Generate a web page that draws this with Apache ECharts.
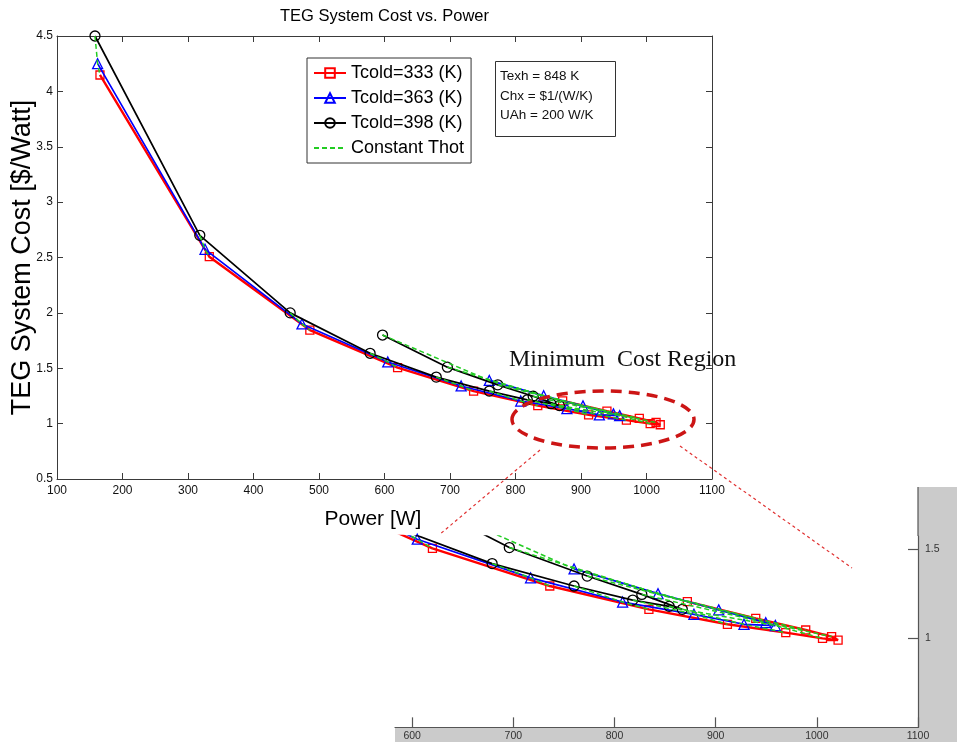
<!DOCTYPE html>
<html>
<head>
<meta charset="utf-8">
<script src="https://cdn.jsdelivr.net/npm/echarts@6/dist/echarts.min.js"></script>
<style>
  html, body { margin: 0; padding: 0; background: #ffffff; }
  #chart { width: 957px; height: 742px; }
</style>
</head>
<body>
<div id="chart"></div>
<script>
// Power [W] and system cost [$/Watt] along each sweep, in path order:
// rising power branch, the maximum-power turn, then the returning branch.
const tcold333 = [[165.6, 4.148], [332.5, 2.507], [486, 1.845], [620, 1.505], [736, 1.294], [834, 1.163],
                  [911.6, 1.079], [969.3, 1.032], [1005.6, 1.0], [1021, 0.99], [1014.6, 1.01], [989, 1.047],
                  [939.6, 1.112], [872, 1.206]];
const tcold363 = [[162, 4.25], [326, 2.574], [474, 1.9], [605, 1.557], [717, 1.34], [808, 1.204],
                  [878.5, 1.135], [928, 1.079], [959, 1.072], [949.5, 1.088], [903, 1.16], [843, 1.251],
                  [760, 1.39]];
const tcold398 = [[158, 4.5], [318, 2.7], [456, 2.0], [578, 1.635], [679, 1.42], [760, 1.294],
                  [818, 1.215], [854, 1.18], [867, 1.163], [827, 1.247], [773, 1.35], [696, 1.51],
                  [597, 1.8]];

const seriesNames = ['Tcold=333 (K)', 'Tcold=363 (K)', 'Tcold=398 (K)', 'Constant Thot'];
const infoLines = ['Texh = 848 K', 'Chx = $1/(W/K)', 'UAh = 200 W/K'];

// tick values
const mainXTicks = { min: 100, max: 1100, step: 100 };
const mainYTicks = { min: 0.5, max: 4.5, step: 0.5 };
const insetXTicks = [600, 700, 800, 900, 1000, 1100];
const insetYTicks = [1, 1.5];

// points sharing the same hot-side temperature: counted from the start
// of each sweep for the rising branch, from the end for the returning one
const RISING_SHARED = 9;
const RETURNING_SHARED = 4;

function constantThotLines() {
  const sweeps = [tcold398, tcold363, tcold333];
  const lines = [];
  for (let i = 0; i < RISING_SHARED; i++) lines.push(sweeps.map(s => s[i]));
  for (let j = 1; j <= RETURNING_SHARED; j++) lines.push(sweeps.map(s => s[s.length - j]));
  return lines;
}

const FONT = 'Liberation Sans, Arial, sans-serif';
const AXIS_COLOR = '#3a3a3a';
const plain = v => String(v);

const styles = [
  { data: tcold333, color: '#ff0000', symbol: 'rect', size: 8, width: 2.4 },
  { data: tcold363, color: '#0000ff', symbol: 'triangle', size: 10, width: 1.7 },
  { data: tcold398, color: '#000000', symbol: 'circle', size: 10, width: 1.7 }
];

function buildSeries(axisIndex) {
  const out = [];
  styles.forEach((s, k) => {
    out.push({
      type: 'line',
      name: seriesNames[k],
      xAxisIndex: axisIndex,
      yAxisIndex: axisIndex,
      data: s.data,
      symbol: s.symbol,
      symbolSize: s.size,
      showAllSymbol: true,
      lineStyle: { color: s.color, width: s.width },
      itemStyle: { color: 'rgba(0,0,0,0)', borderColor: s.color, borderWidth: 1.3 },
      emphasis: { disabled: true },
      z: 3 + k,
      animation: false
    });
  });
  constantThotLines().forEach(line => {
    out.push({
      type: 'line',
      name: seriesNames[3],
      xAxisIndex: axisIndex,
      yAxisIndex: axisIndex,
      data: line,
      symbol: 'none',
      lineStyle: { color: '#22cc22', width: 1.5, type: [5, 3] },
      itemStyle: { color: 'rgba(0,0,0,0)', borderWidth: 0 },
      emphasis: { disabled: true },
      z: 8,
      animation: false
    });
  });
  return out;
}

const chart = echarts.init(document.getElementById('chart'), null, { renderer: 'canvas' });

const mainTick = { inside: true, length: 6, lineStyle: { color: AXIS_COLOR } };
const mainLine = { lineStyle: { color: AXIS_COLOR, width: 1 } };

chart.setOption({
  backgroundColor: '#ffffff',
  animation: false,
  title: {
    text: 'TEG System Cost vs. Power',
    left: 384.5,
    top: 8,
    textAlign: 'center',
    padding: 0,
    textStyle: { fontFamily: FONT, fontSize: 16.5, fontWeight: 'normal', color: '#000' }
  },
  legend: {
    data: seriesNames,
    orient: 'vertical',
    left: 307,
    top: 58,
    itemWidth: 32,
    itemHeight: 12,
    itemGap: 5,
    padding: [5, 7, 5, 6],
    backgroundColor: '#ffffff',
    borderColor: '#333333',
    borderWidth: 1,
    borderRadius: 0,
    selectedMode: false,
    textStyle: { fontFamily: FONT, fontSize: 18, color: '#000', lineHeight: 20 }
  },
  grid: [
    { left: 57, top: 36, width: 655, height: 443, containLabel: false, outerBoundsMode: 'none' },
    { left: 395, top: 536, width: 523, height: 191.35, containLabel: false, outerBoundsMode: 'none' }
  ],
  xAxis: [
    {
      gridIndex: 0, type: 'value', position: 'bottom',
      min: mainXTicks.min, max: mainXTicks.max, interval: mainXTicks.step,
      axisLine: mainLine, axisTick: mainTick, splitLine: { show: false },
      axisLabel: { fontFamily: FONT, fontSize: 12, color: '#111', margin: 6, formatter: plain },
      name: 'Power [W]', nameLocation: 'middle', nameGap: 30, nameMoveOverlap: false,
      nameTextStyle: { fontFamily: FONT, fontSize: 21, color: '#000', padding: [0, 23, 0, 0] }
    },
    {
      gridIndex: 0, type: 'value', position: 'top',
      min: mainXTicks.min, max: mainXTicks.max, interval: mainXTicks.step,
      axisLine: mainLine, axisTick: mainTick, splitLine: { show: false },
      axisLabel: { show: false }
    },
    {
      gridIndex: 1, type: 'value', position: 'bottom', z: 10,
      min: 583, max: 1100,
      axisLine: { lineStyle: { color: '#555', width: 1.2 } },
      axisTick: { inside: true, length: 10, customValues: insetXTicks, lineStyle: { color: '#555', width: 1.2 } },
      axisLabel: { customValues: insetXTicks, fontFamily: FONT, fontSize: 10.5, color: '#333', margin: 3, formatter: plain },
      splitLine: { show: false }
    }
  ],
  yAxis: [
    {
      gridIndex: 0, type: 'value', position: 'left',
      min: mainYTicks.min, max: mainYTicks.max, interval: mainYTicks.step,
      axisLine: mainLine, axisTick: mainTick, splitLine: { show: false },
      axisLabel: { fontFamily: FONT, fontSize: 12, color: '#111', margin: 4 },
      name: 'TEG System Cost [$/Watt]', nameLocation: 'middle', nameRotate: 90, nameGap: 21,
      nameMoveOverlap: false,
      nameTextStyle: { fontFamily: FONT, fontSize: 27, color: '#000' }
    },
    {
      gridIndex: 0, type: 'value', position: 'right',
      min: mainYTicks.min, max: mainYTicks.max, interval: mainYTicks.step,
      axisLine: mainLine, axisTick: mainTick, splitLine: { show: false },
      axisLabel: { show: false }
    },
    {
      gridIndex: 1, type: 'value', position: 'right', z: 10,
      min: 0.5, max: 1.575,
      axisLine: { lineStyle: { color: '#555', width: 1.2 } },
      axisTick: { inside: true, length: 10, customValues: insetYTicks, lineStyle: { color: '#555', width: 1.2 } },
      axisLabel: { customValues: insetYTicks, fontFamily: FONT, fontSize: 10.5, color: '#333', margin: 7 },
      splitLine: { show: false }
    }
  ],
  series: buildSeries(0).concat(buildSeries(2).map(s => Object.assign(s, { xAxisIndex: 2, yAxisIndex: 2 }))),
  graphic: {
    elements: [
      // grey surround of the magnified view
      { type: 'rect', z: 0, shape: { x: 918, y: 487, width: 39, height: 255 }, style: { fill: '#cbcbcb' } },
      { type: 'rect', z: 0, shape: { x: 395, y: 727, width: 562, height: 15 }, style: { fill: '#cbcbcb' } },
      { type: 'line', z: 20, shape: { x1: 918, y1: 487, x2: 918, y2: 536 }, style: { stroke: '#555', lineWidth: 1.2 } },
      // parameter box
      { type: 'rect', z: 20, shape: { x: 495.5, y: 61.5, width: 120, height: 75 },
        style: { fill: '#ffffff', stroke: '#333', lineWidth: 1 } },
      { type: 'text', z: 21, left: 500, top: 67,
        style: { text: infoLines.join('\n'), font: '13.5px ' + FONT, lineHeight: 19.5, fill: '#111' } },
      // minimum cost callout
      { type: 'text', z: 21, left: 509, top: 348,
        style: { text: 'Minimum  Cost Region', font: '24px Liberation Serif, Times New Roman, serif', fill: '#111' } },
      { type: 'ellipse', z: 21, shape: { cx: 603, cy: 419.5, rx: 91, ry: 28.5 },
        style: { fill: 'none', stroke: '#cc1515', lineWidth: 3.5, lineDash: [11, 7] } },
      { type: 'line', z: 21, shape: { x1: 540, y1: 450, x2: 439, y2: 535 },
        style: { stroke: '#e03030', lineWidth: 1.2, lineDash: [3, 3] } },
      { type: 'line', z: 21, shape: { x1: 680, y1: 446, x2: 852, y2: 568 },
        style: { stroke: '#e03030', lineWidth: 1.2, lineDash: [3, 3] } }
    ]
  }
});
</script>
</body>
</html>
